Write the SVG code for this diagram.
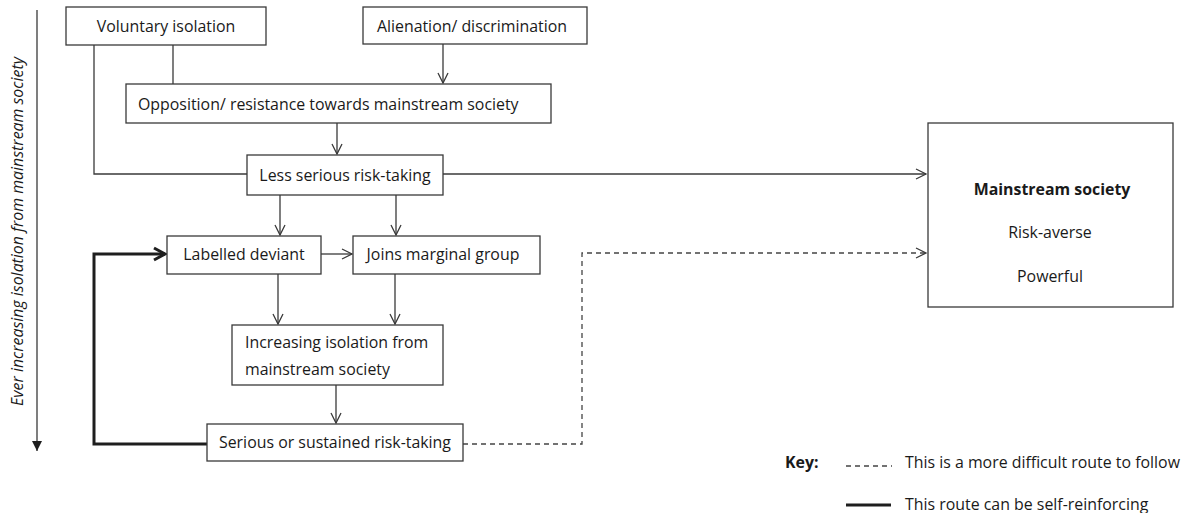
<svg xmlns="http://www.w3.org/2000/svg" width="1188" height="513" viewBox="0 0 1188 513">
<style>
  .box { fill: #fff; stroke: #3a3a3a; stroke-width: 1.3; }
  .t { font-family: "Open Sans", "Noto Sans", sans-serif; font-size: 15.9px; fill: #1a1a1a; }
  .c { text-anchor: middle; }
  .b { font-weight: bold; }
  .ln { fill: none; stroke: #3a3a3a; stroke-width: 1.3; }
  .thick { fill: none; stroke: #1e1e1e; stroke-width: 3; }
  .dash { fill: none; stroke: #444; stroke-width: 1.3; stroke-dasharray: 5 4; }
</style>
<defs>
  <marker id="arr" markerUnits="userSpaceOnUse" viewBox="0 0 12 12" markerWidth="12" markerHeight="12" refX="10.5" refY="6" orient="auto" overflow="visible">
    <path d="M0.5,1 L10.5,6 L0.5,11" fill="none" stroke="#3a3a3a" stroke-width="1.3"/>
  </marker>
  <marker id="arrThick" markerUnits="userSpaceOnUse" viewBox="0 0 14 14" markerWidth="14" markerHeight="14" refX="12" refY="7" orient="auto" overflow="visible">
    <path d="M1,1 L12,7 L1,13" fill="none" stroke="#1e1e1e" stroke-width="3"/>
  </marker>
  <marker id="tri" markerUnits="userSpaceOnUse" viewBox="0 0 12 12" markerWidth="12" markerHeight="12" refX="10" refY="6" orient="auto" overflow="visible">
    <path d="M0,1 L10,6 L0,11 Z" fill="#1e1e1e" stroke="none"/>
  </marker>
</defs>

<g id="axis">
  <line x1="37" y1="10" x2="37" y2="451" class="ln" stroke="#1e1e1e" marker-end="url(#tri)"/>
  <text class="t" transform="translate(23,231.5) rotate(-90)" text-anchor="middle" font-style="italic" font-size="12.9px">Ever increasing isolation from mainstream society</text>
</g>

<g id="connectors">
  <polyline class="ln" points="94,45 94,174 247,174"/>
  <line class="ln" x1="173" y1="45" x2="173" y2="84"/>
  <line class="ln" x1="443" y1="44" x2="443" y2="83" marker-end="url(#arr)"/>
  <line class="ln" x1="337" y1="123" x2="337" y2="154" marker-end="url(#arr)"/>
  <line class="ln" x1="443" y1="174" x2="926" y2="174" marker-end="url(#arr)"/>
  <line class="ln" x1="280" y1="195" x2="280" y2="235" marker-end="url(#arr)"/>
  <line class="ln" x1="396" y1="195" x2="396" y2="235" marker-end="url(#arr)"/>
  <line class="ln" x1="321" y1="254" x2="352" y2="254" marker-end="url(#arr)"/>
  <line class="ln" x1="278" y1="274" x2="278" y2="324" marker-end="url(#arr)"/>
  <line class="ln" x1="395" y1="274" x2="395" y2="324" marker-end="url(#arr)"/>
  <line class="ln" x1="336" y1="385" x2="336" y2="423" marker-end="url(#arr)"/>
  <polyline class="thick" points="207,444 94,444 94,254 165,254" marker-end="url(#arrThick)"/>
  <polyline class="dash" points="463,444 582,444 582,253 926,253" marker-end="url(#arr)"/>
</g>

<g id="voluntary">
  <rect class="box" x="66" y="7" width="200" height="38"/>
  <text class="t c" x="166" y="32">Voluntary isolation</text>
</g>
<g id="alienation">
  <rect class="box" x="363" y="7" width="224" height="37"/>
  <text class="t c" x="472" y="32">Alienation/ discrimination</text>
</g>
<g id="opposition">
  <rect class="box" x="126" y="84" width="425" height="39"/>
  <text class="t" x="138" y="110">Opposition/ resistance towards mainstream society</text>
</g>
<g id="less-serious">
  <rect class="box" x="247" y="155" width="196" height="40"/>
  <text class="t c" x="345" y="181">Less serious risk-taking</text>
</g>
<g id="labelled">
  <rect class="box" x="167" y="236" width="154" height="38"/>
  <text class="t c" x="244" y="260">Labelled deviant</text>
</g>
<g id="joins">
  <rect class="box" x="353" y="236" width="187" height="38"/>
  <text class="t c" x="443" y="260">Joins marginal group</text>
</g>
<g id="increasing">
  <rect class="box" x="232" y="325" width="211" height="60"/>
  <text class="t" x="245" y="348">Increasing isolation from</text>
  <text class="t" x="245" y="375">mainstream society</text>
</g>
<g id="serious">
  <rect class="box" x="207" y="424" width="256" height="37"/>
  <text class="t c" x="335" y="448">Serious or sustained risk-taking</text>
</g>
<g id="mainstream">
  <rect class="box" x="928" y="123" width="245" height="184"/>
  <text class="t c b" x="1052" y="195">Mainstream society</text>
  <text class="t c" x="1050" y="238">Risk-averse</text>
  <text class="t c" x="1050" y="282">Powerful</text>
</g>

<g id="key">
  <text class="t b" x="785" y="468">Key:</text>
  <line class="dash" x1="846" y1="466" x2="892" y2="466" stroke-dasharray="4 4"/>
  <text class="t" x="905" y="468">This is a more difficult route to follow</text>
  <line class="thick" x1="846" y1="505" x2="891" y2="505" stroke-width="2.5"/>
  <text class="t" x="905" y="510">This route can be self-reinforcing</text>
</g>
</svg>
